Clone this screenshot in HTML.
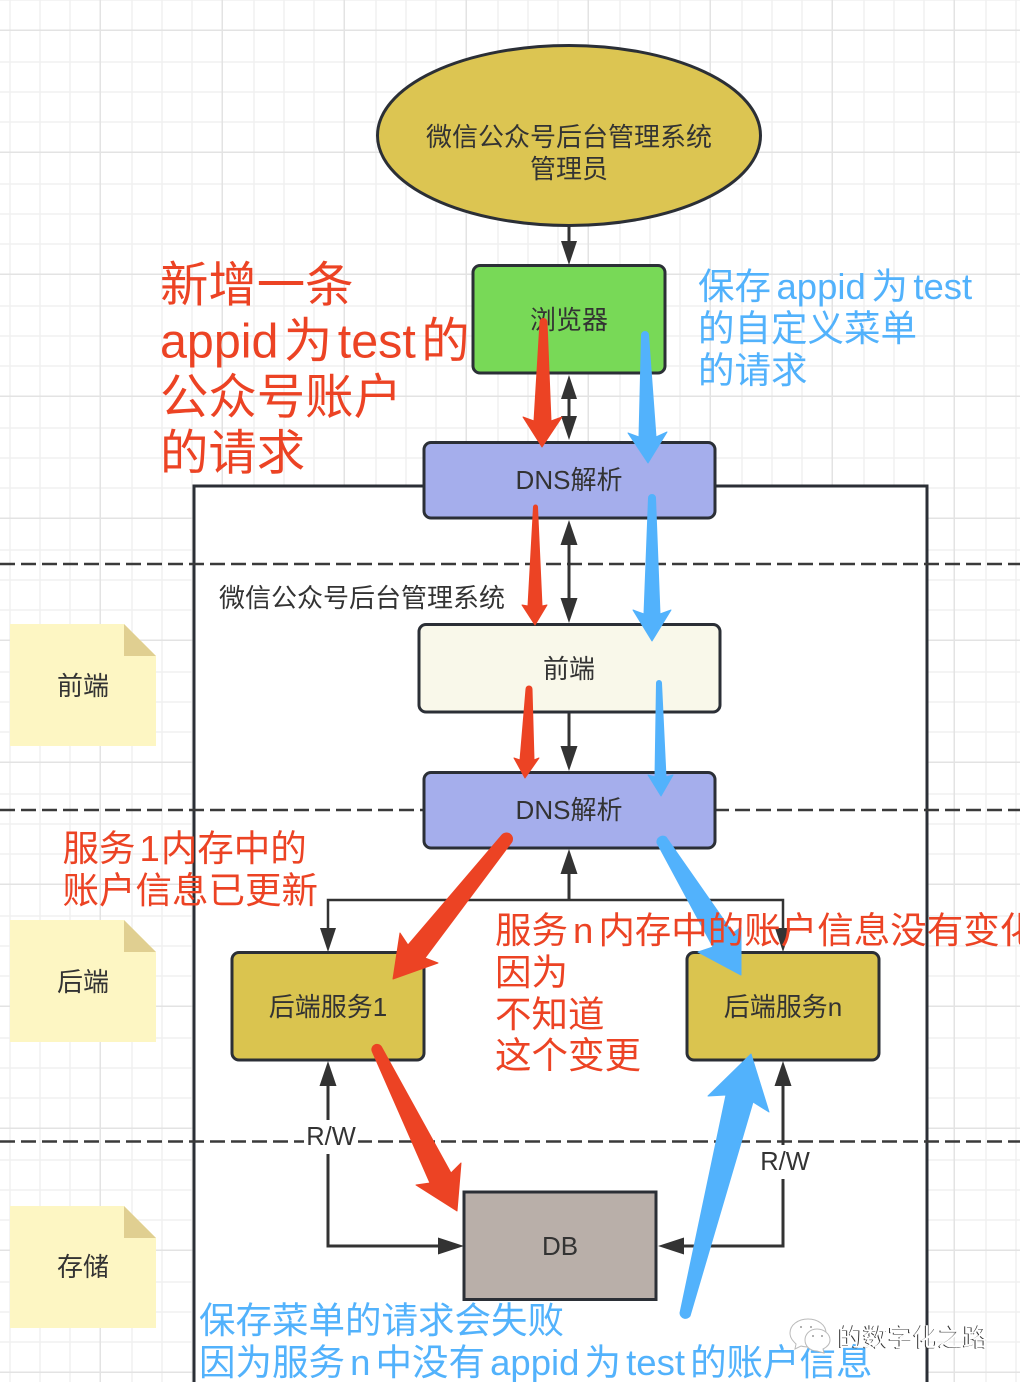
<!DOCTYPE html>
<html><head><meta charset="utf-8"><style>
html,body{margin:0;padding:0;background:#fff;width:1020px;height:1382px;overflow:hidden}
svg{display:block}
text{font-family:"Liberation Sans","Noto Sans CJK SC",sans-serif;fill:#333}
.n{font-size:26px;text-anchor:middle}
.r{font-size:36.5px;fill:#ec4324}
.b{font-size:36.5px;fill:#52b2fc}
.big{font-size:48.4px;fill:#ec4324}
</style></head><body>
<svg width="1020" height="1382" viewBox="0 0 1020 1382" xmlns="http://www.w3.org/2000/svg">
<defs>
<pattern id="g" x="99.500" y="29.500" width="122" height="122" patternUnits="userSpaceOnUse">
<path d="M32.500 0V122M62.500 0V122M92.500 0V122M0 32.500H122M0 62.500H122M0 92.500H122" stroke="#f0f0f0" stroke-width="1.5" fill="none"/>
<path d="M.75 0V122M0 .75H122" stroke="#e3e3e3" stroke-width="1.5" fill="none"/>
</pattern>
</defs>
<rect width="1020" height="1382" fill="#fff"/>
<rect width="1020" height="1382" fill="url(#g)"/>
<!-- frame -->
<rect x="194" y="486" width="733" height="920" fill="#fff" stroke="#2b2f36" stroke-width="3"/>
<!-- dashed -->
<g stroke="#3a3a3a" stroke-width="2.6" stroke-dasharray="15 6" fill="none">
<path d="M0 564H1020M0 810H1020M0 1141.500H1020"/>
</g>
<!-- notes -->
<g>
<path d="M10 624H124L156 656V746H10Z" fill="#fdf6c3"/><path d="M124 624L156 656H124Z" fill="#e0cf91"/>
<path d="M10 920H124L156 952V1042H10Z" fill="#fdf6c3"/><path d="M124 920L156 952H124Z" fill="#e0cf91"/>
<path d="M10 1206H124L156 1238V1328H10Z" fill="#fdf6c3"/><path d="M124 1206L156 1238H124Z" fill="#e0cf91"/>
</g>
<text class="n" x="83" y="695">前端</text>
<text class="n" x="83" y="991">后端</text>
<text class="n" x="83" y="1276">存储</text>
<!-- connectors -->
<g stroke="#333" stroke-width="3" fill="none">
<path d="M569 226V250M569 395V420M569 535V605M569 712V750M569 870V900"/>
<path d="M328 930V900H783V930" stroke-width="2.500"/>
<path d="M328 1085V1246H445M783 1085V1246H680"/>
</g>
<g fill="#333">
<path d="M569 265L561 241H577Z"/>
<path d="M569 375L561 399H577Z"/><path d="M569 440L561 416H577Z"/>
<path d="M569 520L560.500 545H577.500Z"/><path d="M569 623L560.500 598H577.500Z"/>
<path d="M569 771L560.500 746H577.500Z"/>
<path d="M569 849L560.500 874H577.500Z"/>
<path d="M328 952L320 928H336Z"/><path d="M783 952L775 928H791Z"/>
<path d="M328 1061L319.500 1086H336.500Z"/><path d="M783 1061L774.500 1086H791.500Z"/>
<path d="M464 1246L438 1237.500V1254.500Z"/><path d="M658 1246L684 1237.500V1254.500Z"/>
</g>
<!-- R/W labels -->
<rect x="304" y="1120" width="54" height="34" fill="#fff"/>
<rect x="758" y="1145" width="54" height="34" fill="#fff"/>
<text x="331" y="1145" font-size="25.500" text-anchor="middle">R/W</text>
<text x="785" y="1170" font-size="25.500" text-anchor="middle">R/W</text>
<!-- nodes -->
<g stroke="#2b2f36" stroke-width="3">
<ellipse cx="569" cy="135.500" rx="191.500" ry="90" fill="#dcc552"/>
<rect x="473" y="265.500" width="192" height="107.500" rx="7" fill="#78d957"/>
<rect x="424" y="442.500" width="291" height="75.500" rx="7" fill="#a5aeec"/>
<rect x="419" y="624.500" width="301" height="87.500" rx="7" fill="#f9f8ea"/>
<rect x="424" y="772.500" width="291" height="75.500" rx="7" fill="#a5aeec"/>
<rect x="232" y="952.500" width="192" height="107.500" rx="7" fill="#dac44f"/>
<rect x="687" y="952.500" width="192" height="107.500" rx="7" fill="#dac44f"/>
<rect x="464" y="1192" width="192" height="107.500" fill="#b9afa9"/>
</g>
<text class="n" x="569" y="146">微信公众号后台管理系统</text>
<text class="n" x="569" y="178">管理员</text>
<text class="n" x="569" y="329">浏览器</text>
<text class="n" x="569" y="489">DNS解析</text>
<text class="n" x="569" y="678">前端</text>
<text class="n" x="569" y="819">DNS解析</text>
<text class="n" x="328" y="1016">后端服务1</text>
<text class="n" x="783" y="1016">后端服务n</text>
<text class="n" x="560" y="1255">DB</text>
<text class="n" x="362" y="607">微信公众号后台管理系统</text>
<!-- thick red arrows -->
<g fill="#ec4324" stroke="#ec4324" stroke-width="1" stroke-linejoin="round">
<path d="M540 322A3.500 3.500 0 0 1 547 322L551 421L562 417L542 447L523 417L534 421Z"/>
<path d="M533.500 507A2 2 0 0 1 537.500 507L542 606L547 605L535 625L522 605L528 606Z"/>
<path d="M526 689A3 3 0 0 1 532 689L534 760L539 758L525 778L514 758L520 760Z"/>
<path d="M502 835A6 6 0 0 1 511 843L425 958L438 963L393 979L400 933L408 945Z"/>
<path d="M372.500 1052A5 5 0 0 1 381.500 1047L451 1173L461 1163L457 1211L416 1185L430 1183Z"/>
</g>
<!-- thick blue arrows -->
<g fill="#52b2fc" stroke="#52b2fc" stroke-width="1" stroke-linejoin="round">
<path d="M641.500 335A3.500 3.500 0 0 1 648.500 335L656 437L667 432L648 463L628 433L639 437Z"/>
<path d="M648.500 498A3.500 3.500 0 0 1 655.500 498L660 614L671 610L652 641L633 610L644 614Z"/>
<path d="M656.500 683A2.500 2.500 0 0 1 661.500 683L666 777L673 775L661 796L648 775L655 777Z"/>
<path d="M657 843A6 6 0 0 1 666 837L733 933L741 927L741 975L698 952L713 947Z"/>
<path d="M690 1316A5.500 5.500 0 0 1 680 1313L726 1095L708 1096L751 1054L769 1112L753 1102Z"/>
</g>
<!-- annotation text -->
<text class="big" x="160" y="301.500">新增一条</text>
<text class="big" x="160" y="357.500">appid<tspan dx="5.500">为</tspan><tspan dx="5.500">test</tspan><tspan dx="5.500">的</tspan></text>
<text class="big" x="160" y="413.500">公众号账户</text>
<text class="big" x="160" y="469.500">的请求</text>
<text class="b" x="698" y="299">保存<tspan dx="5.500">appid</tspan><tspan dx="5.500">为</tspan><tspan dx="5.500">test</tspan></text>
<text class="b" x="698" y="341">的自定义菜单</text>
<text class="b" x="698" y="383">的请求</text>
<text class="r" x="62.500" y="861">服务<tspan dx="4">1</tspan><tspan dx="1">内存中的</tspan></text>
<text class="r" x="62.500" y="903">账户信息已更新</text>
<text class="r" x="495" y="943">服务<tspan dx="5">n</tspan><tspan dx="5">内存中的账户信息没有变化</tspan></text>
<text class="r" x="495" y="985">因为</text>
<text class="r" x="495" y="1027">不知道</text>
<text class="r" x="495" y="1068">这个变更</text>
<text class="b" x="199" y="1333">保存菜单的请求会失败</text>
<text class="b" x="199" y="1375">因为服务<tspan dx="5.100">n</tspan><tspan dx="5.100">中没有</tspan><tspan dx="5.100">appid</tspan><tspan dx="5.100">为</tspan><tspan dx="5.100">test</tspan><tspan dx="5.100">的账户信息</tspan></text>
<!-- watermark -->
<g fill="#fff" stroke="#bbb" stroke-width="1">
<path d="M808 1319C798 1319 790 1325 790 1333C790 1338 793 1341 796 1344L795 1349L801 1346C804 1347 808 1347 811 1347C820 1347 826 1341 826 1333C826 1325 818 1319 808 1319Z"/>
<path d="M817 1329C809 1329 805 1335 805 1340C805 1346 810 1351 817 1351L824 1353L823 1349C827 1347 830 1344 830 1340C830 1334 824 1329 817 1329Z"/>
</g>
<g fill="#999"><circle cx="801" cy="1327" r="1"/><circle cx="811" cy="1327" r="1"/><circle cx="813" cy="1336" r="1"/><circle cx="822" cy="1336" r="1"/></g>
<text x="837" y="1346.500" font-size="25" style="fill:#333">的数字化之路</text>
<text x="838" y="1346" font-size="25" style="fill:#fff">的数字化之路</text>
</svg>
</body></html>
